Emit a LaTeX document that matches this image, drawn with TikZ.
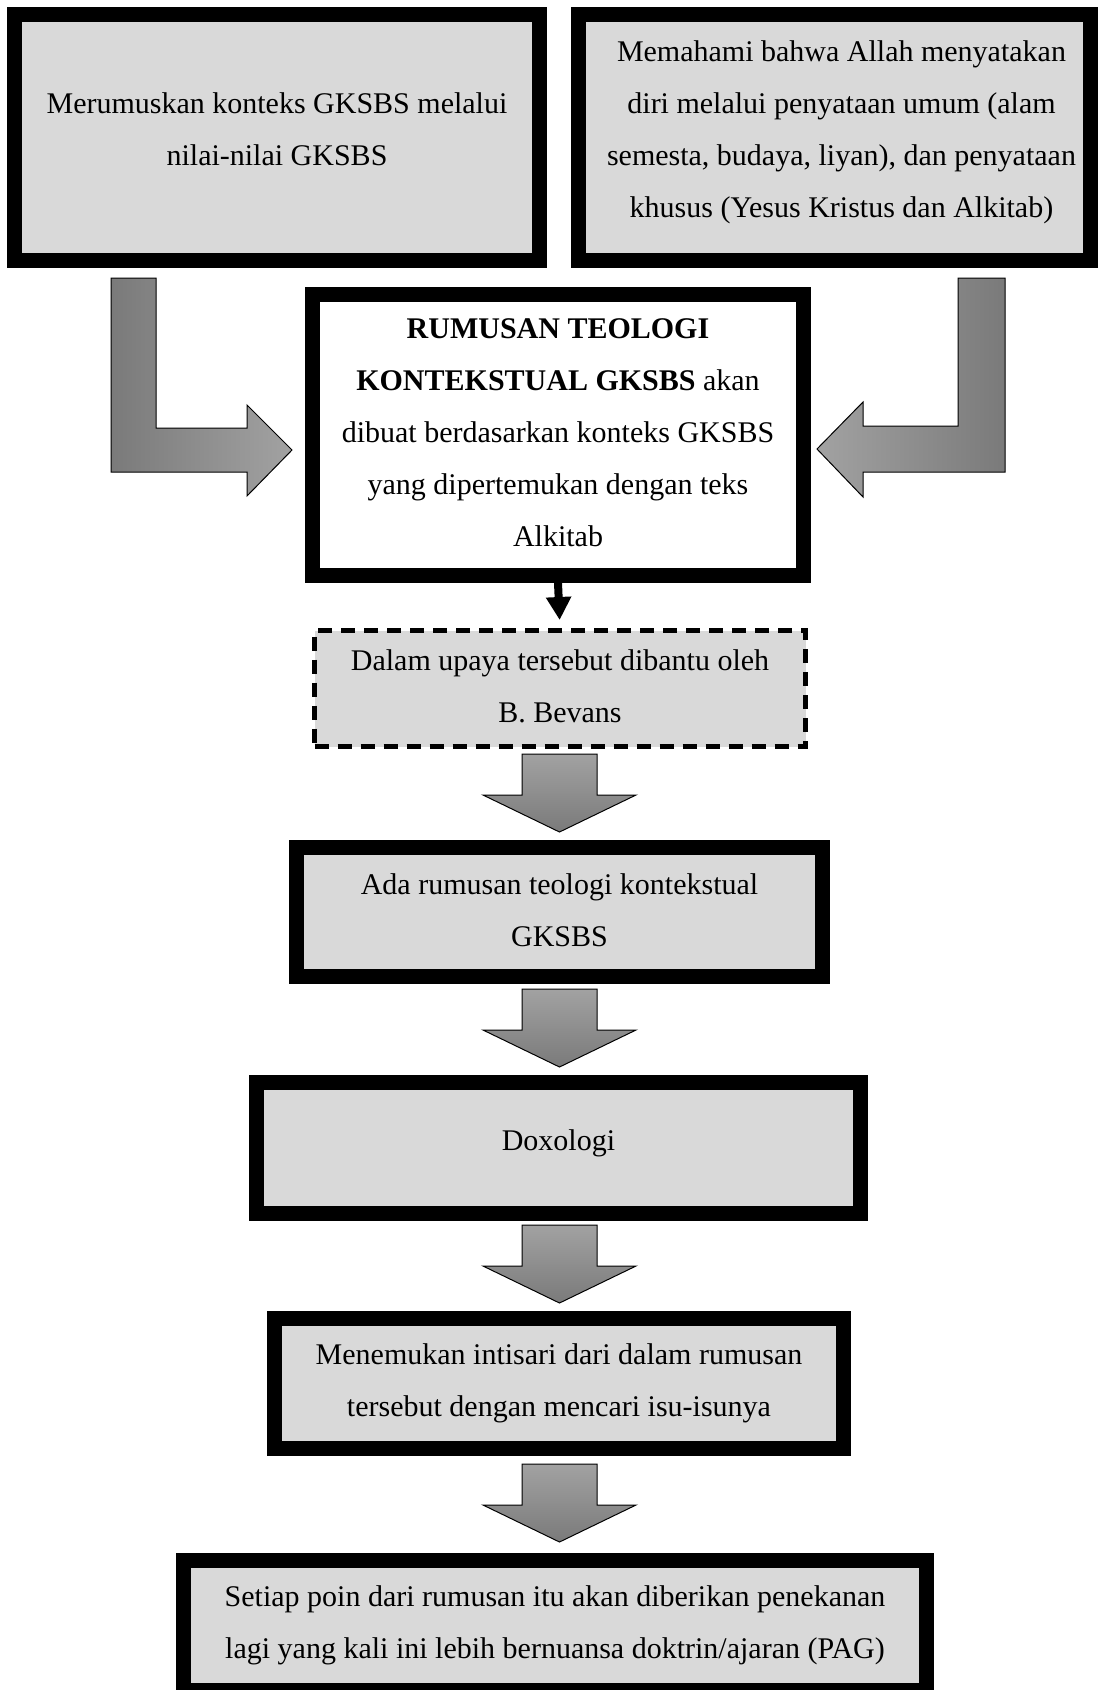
\documentclass[tikz,border=0pt]{standalone}
\usepackage{fontspec}
\setmainfont{Liberation Serif}
\usetikzlibrary{arrows.meta, positioning}

\definecolor{boxgray}{RGB}{217,217,217}
\definecolor{arrowdark}{RGB}{122,122,122}
\definecolor{arrowlight}{RGB}{162,162,162}

\tikzset{
  flowbox/.style={draw, line width=15pt, fill=boxgray, align=center, inner sep=0pt,
    font=\fontsize{30}{52}\selectfont},
  helpbox/.style={flowbox, line width=5pt, dash pattern=on 14pt off 9pt},
  bentarrow/.style={draw=black, line width=1pt, line join=miter},
  blockarrow/.style={draw=black, line width=1pt, top color=arrowlight, bottom color=arrowdark}
}

\begin{document}
\begin{tikzpicture}[x=1pt, y=-1pt]
\useasboundingbox (0,0) rectangle (1099,1690);
\clip (0,0) rectangle (1099,1690);

% two starting boxes
\node[flowbox, text depth=15pt, minimum width=525pt, minimum height=246pt] (konteks) at (277,137)
  {Merumuskan konteks GKSBS melalui\\ nilai-nilai GKSBS};
\node[flowbox, text depth=15pt, minimum width=512pt, minimum height=246pt] (penyataan) at (834,137)
  {\hspace*{15pt}Memahami bahwa Allah menyatakan\\ \hspace*{15pt}diri melalui penyataan umum (alam\\
   \hspace*{15pt}semesta, budaya, liyan), dan penyataan\\ \hspace*{15pt}khusus (Yesus Kristus dan Alkitab)};

% main formulation
\node[flowbox, fill=white, text depth=4pt, minimum width=491pt, minimum height=281pt]
  (rumusan) at (558,435)
  {\textbf{RUMUSAN TEOLOGI}\\ \textbf{KONTEKSTUAL GKSBS} akan\\ dibuat berdasarkan konteks GKSBS\\
   yang dipertemukan dengan teks\\ Alkitab};

% bent arrows into the main box
\shade[bentarrow, left color=arrowdark, right color=arrowlight]
  (111,278) -- (156,278) -- (156,428) -- (247,428) -- (247,405) -- (292,450)
  -- (247,496) -- (247,472) -- (111,472) -- cycle;
\shade[bentarrow, left color=arrowlight, right color=arrowdark]
  (1005,278) -- (958,278) -- (958,426) -- (863,426) -- (863,402) -- (817,449)
  -- (863,497) -- (863,472) -- (1005,472) -- cycle;

\node[helpbox, text depth=4pt, minimum width=491pt, minimum height=116pt] (bevans) at (560,688.5)
  {Dalam upaya tersebut dibantu oleh\\ B. Bevans};
\draw[line width=8pt, -{Triangle[width=24pt, length=23pt]}, shorten >=8pt]
  (rumusan.south) -- (bevans.north);

% the chain below
\node[flowbox, text depth=4pt, minimum width=526pt, minimum height=129pt] (hasil) at (559.5,912)
  {Ada rumusan teologi kontekstual\\ GKSBS};
\node[flowbox, text depth=15pt, minimum width=604pt, minimum height=131pt] (doxologi) at (558.5,1148)
  {Doxologi};
\node[flowbox, minimum width=569pt, minimum height=130pt] (intisari) at (559,1383.5)
  {Menemukan intisari dari dalam rumusan\\ tersebut dengan mencari isu-isunya};
\node[flowbox, minimum width=743pt, minimum height=130pt] (pag) at (555,1625.5)
  {Setiap poin dari rumusan itu akan diberikan penekanan\\
   lagi yang kali ini lebih bernuansa doktrin/ajaran (PAG)};

\foreach \y in {793,1028,1264,1503} {
  \shade[blockarrow] (522,\y-39) -- (597,\y-39) -- (597,\y+2) -- (636,\y+2)
    -- (559.5,\y+39) -- (483,\y+2) -- (522,\y+2) -- cycle;
}
\end{tikzpicture}
\end{document}
